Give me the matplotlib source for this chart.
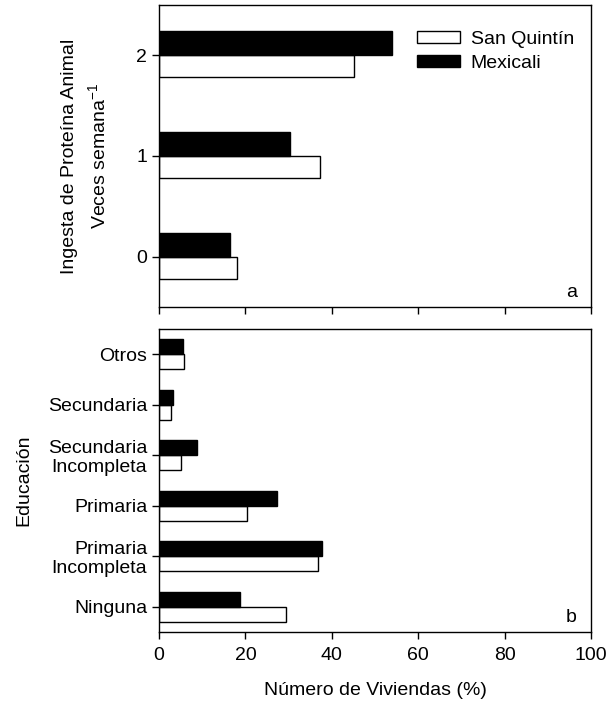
import matplotlib.pyplot as plt
import numpy as np

plt.rcParams['font.family'] = ['Liberation Sans', 'DejaVu Sans']
plt.rcParams['font.size'] = 14
plt.rcParams['mathtext.fontset'] = 'custom'
plt.rcParams['mathtext.rm'] = 'Liberation Sans'

# panel a: animal protein intake (times per week)
protein_levels = [0, 1, 2]
protein_sq = [18.0, 37.3, 45.1]
protein_mx = [16.5, 30.3, 53.9]

# panel b: education
edu_labels = ['Ninguna', 'Primaria\nIncompleta', 'Primaria',
              'Secundaria\nIncompleta', 'Secundaria', 'Otros']
edu_sq = [29.4, 36.9, 20.3, 5.2, 2.8, 5.9]
edu_mx = [18.7, 37.7, 27.2, 8.8, 3.3, 5.5]

fig = plt.figure(figsize=(6.08, 7.06), dpi=100)
ax1 = fig.add_axes([159/608, 1 - 307/706, 432/608, 302/706])
ax2 = fig.add_axes([159/608, 1 - 632/706, 432/608, 303/706])

y1 = np.array(protein_levels)
ax1.barh(y1, protein_sq, height=-0.22, align='edge', color='white',
         edgecolor='black', linewidth=1, label='San Quintín')
ax1.barh(y1, protein_mx, height=0.24, align='edge', color='black',
         edgecolor='black', linewidth=1, label='Mexicali')
ax1.set_ylim(-0.5, 2.5)
ax1.set_xlim(0, 100)
ax1.set_yticks(protein_levels)
ax1.set_xticks(np.arange(0, 101, 20))
ax1.set_xticklabels([])
ax1.set_ylabel('Ingesta de Proteína Animal\nVeces semana$^{-1}$',
               linespacing=1.5, labelpad=19)
ax1.text(0.955, 0.02, 'a', transform=ax1.transAxes, ha='center', va='bottom')
ax1.legend(loc='upper left', bbox_to_anchor=(0.58, 0.94), frameon=False,
           handlelength=2.2, handleheight=0.55, borderaxespad=0,
           labelspacing=0.35, handletextpad=0.55)

y2 = np.arange(len(edu_labels))
ax2.barh(y2, edu_sq, height=-0.3, align='edge', color='white',
         edgecolor='black', linewidth=1)
ax2.barh(y2, edu_mx, height=0.3, align='edge', color='black',
         edgecolor='black', linewidth=1)
ax2.set_ylim(-0.5, 5.5)
ax2.set_xlim(0, 100)
ax2.set_yticks(y2)
ax2.set_yticklabels(edu_labels, linespacing=1.1)
ax2.set_xticks(np.arange(0, 101, 20))
ax2.set_xlabel('Número de Viviendas (%)', labelpad=13)
ax2.set_ylabel('Educación', labelpad=11)
ax2.text(0.955, 0.02, 'b', transform=ax2.transAxes, ha='center', va='bottom')

for ax in (ax1, ax2):
    ax.tick_params(direction='out', length=5, width=1, top=False, right=False)
    ax.tick_params(axis='x', pad=6)
    for s in ax.spines.values():
        s.set_linewidth(1)

fig.savefig('out.png', dpi=100)
